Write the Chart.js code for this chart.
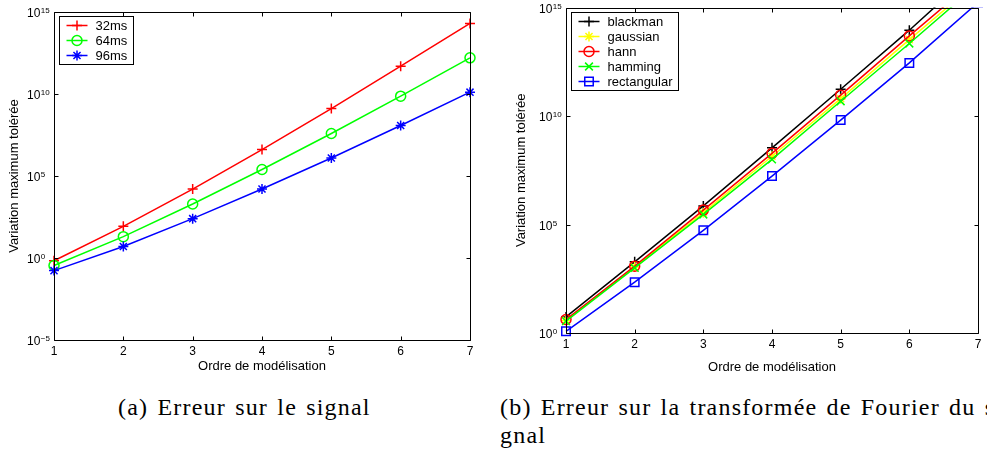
<!DOCTYPE html>
<html>
<head>
<meta charset="utf-8">
<title>Variation maximum tolérée</title>
<script src="https://cdn.jsdelivr.net/npm/chart.js@4.4.1/dist/chart.umd.min.js"></script>
<style>
    html, body { margin: 0; padding: 0; background: #fff; width: 987px; height: 453px; overflow: hidden; }
    .panel { position: absolute; top: 0; height: 380px; }
    #panel-a { left: 0; width: 490px; }
    #panel-b { left: 500px; width: 487px; }
    .caption { position: absolute; font-family: "Liberation Serif", serif; font-size: 24px; line-height: 28px; letter-spacing: 1.2px; word-spacing: 2px; color: #000; white-space: nowrap; }
</style>
</head>
<body>
<div class="panel" id="panel-a"><canvas id="chartA"></canvas></div>
<div class="panel" id="panel-b"><canvas id="chartB"></canvas></div>
<div class="caption" style="left:118px; top:393px;">(a) Erreur sur le signal</div>
<div class="caption" style="left:500px; top:393px;">(b) Erreur sur la transformée de Fourier du si<br>gnal</div>
<script>
// x axis: model order
const orders = [1, 2, 3, 4, 5, 6, 7];
const xTicks = [1, 2, 3, 4, 5, 6, 7];

// (a) error on the signal
const labelsA = ['32ms', '64ms', '96ms'];
const values32ms = [6.8e-1, 8.5e1, 1.6e4, 4.1e6, 1.3e9, 5.0e11, 2.0e14];
const values64ms = [3.5e-1, 2.0e1, 1.95e3, 2.5e5, 3.9e7, 7.4e9, 1.6e12];
const values96ms = [1.7e-1, 5.0e0, 2.5e2, 1.6e4, 1.26e6, 1.2e8, 1.3e10];
const yTicksA = [1e-5, 1e0, 1e5, 1e10, 1e15];
const yExpA = ['\u22125', '0', '5', '10', '15'];

// (b) error on the Fourier transform of the signal
const labelsB = ['blackman', 'gaussian', 'hann', 'hamming', 'rectangular'];
const valuesBlackman = [5.5e0, 1.9e3, 7.2e5, 3.4e8, 1.7e11, 9.0e13, 6.6e16];
const valuesGaussian = [3.8e0, 1.1e3, 3.5e5, 1.4e8, 6.3e10, 3.3e13, 1.6e16];
const valuesHann = [4.2e0, 1.2e3, 4.6e5, 1.9e8, 9.1e10, 4.9e13, 2.4e16];
const valuesHamming = [3.5e0, 1.0e3, 2.9e5, 1.0e8, 4.8e10, 2.2e13, 1.2e16];
const valuesRect = [1.2e0, 2.2e2, 5.4e4, 1.7e7, 6.5e9, 2.8e12, 1.7e15];
const yTicksB = [1e0, 1e5, 1e10, 1e15];
const yExpB = ['0', '5', '10', '15'];

const FONT = '"Liberation Sans", Arial, sans-serif';

function makeSeries(label, values, color, pointStyle, radius, order) {
    return {
        label: label,
        data: orders.map((o, i) => ({ x: o, y: values[i] })),
        borderColor: color,
        backgroundColor: color,
        borderWidth: 1.5,
        tension: 0,
        pointStyle: pointStyle,
        pointRadius: radius,
        pointHoverRadius: radius,
        pointBorderWidth: 1.5,
        pointBackgroundColor: 'rgba(0,0,0,0)',
        pointBorderColor: color,
        clip: { left: 10, right: 10, top: 0, bottom: 10 },
        order: order
    };
}

// box, inward ticks, superscript y labels and a matlab-like legend
const matlabAxes = {
    id: 'matlabAxes',
    afterDraw(chart, args, opts) {
        const { ctx, chartArea: a } = chart;
        const x = chart.scales.x, y = chart.scales.y;
        const L = Math.round(a.left) + 0.5, R = Math.round(a.right) + 0.5;
        const T = Math.round(a.top) + 0.5, B = Math.round(a.bottom) + 0.5;
        const len = 4;
        ctx.save();
        ctx.strokeStyle = '#000';
        ctx.lineWidth = 1;
        ctx.beginPath();
        ctx.rect(L, T, R - L, B - T);
        x.ticks.forEach(t => {
            const px = Math.round(x.getPixelForValue(t.value)) + 0.5;
            ctx.moveTo(px, B); ctx.lineTo(px, B - len);
            ctx.moveTo(px, T); ctx.lineTo(px, T + len);
        });
        y.ticks.forEach(t => {
            const py = Math.round(y.getPixelForValue(t.value)) + 0.5;
            ctx.moveTo(L, py); ctx.lineTo(L + len, py);
            ctx.moveTo(R, py); ctx.lineTo(R - len, py);
        });
        ctx.stroke();

        // y tick labels: 10 with exponent
        ctx.fillStyle = '#000';
        ctx.textBaseline = 'alphabetic';
        ctx.textAlign = 'left';
        opts.ticks.forEach((v, i) => {
            const py = y.getPixelForValue(v);
            ctx.font = '12px ' + FONT;
            const bx = a.left - 27;
            ctx.fillText('10', bx, py + 5);
            const w = ctx.measureText('10').width;
            ctx.font = '8px ' + FONT;
            ctx.fillText(opts.exps[i], bx + w + 0.5, py + 1);
        });

        // legend
        const ds = chart.data.datasets;
        ctx.font = '13px ' + FONT;
        let tw = 0;
        ds.forEach(d => { tw = Math.max(tw, ctx.measureText(d.label).width); });
        const bx = Math.round(a.left + 5) + 0.5, by = Math.round(a.top + 4) + 0.5;
        const bw = Math.round(36 + tw + 6), bh = ds.length * 15 + 3;
        ctx.fillStyle = '#fff';
        ctx.fillRect(bx, by, bw, bh);
        ctx.strokeStyle = '#000';
        ctx.strokeRect(bx, by, bw, bh);
        ds.forEach((d, i) => {
            const ry = by + 9 + i * 15;
            ctx.strokeStyle = d.borderColor;
            ctx.lineWidth = 1.5;
            ctx.beginPath();
            ctx.moveTo(bx + 7, ry); ctx.lineTo(bx + 28, ry);
            ctx.stroke();
            ctx.fillStyle = 'rgba(0,0,0,0)';
            Chart.helpers.drawPoint(ctx, { pointStyle: d.pointStyle, radius: d.pointRadius, rotation: 0, borderWidth: 1.5 }, bx + 17.5, ry);
            ctx.fillStyle = '#000';
            ctx.textBaseline = 'middle';
            ctx.fillText(d.label, bx + 36, ry + 0.5);
        });
        ctx.restore();
    }
};

function makeOptions(cfg) {
    return {
        responsive: true,
        maintainAspectRatio: false,
        animation: false,
        events: [],
        layout: { padding: cfg.padding },
        plugins: {
            legend: { display: false },
            tooltip: { enabled: false },
            matlabAxes: { ticks: cfg.yTicks, exps: cfg.yExps }
        },
        scales: {
            x: {
                type: 'linear',
                min: 1,
                max: 7,
                grid: { display: false, drawTicks: false },
                border: { display: false },
                afterBuildTicks: s => { s.ticks = xTicks.map(v => ({ value: v })); },
                afterFit: s => { s.height = cfg.xHeight; },
                ticks: { color: '#000', font: { family: FONT, size: 12 }, padding: 4, maxRotation: 0, callback: v => String(v) },
                title: { display: true, text: 'Ordre de modélisation', color: '#000', font: { family: FONT, size: 13 }, padding: { top: 0, bottom: cfg.xTitlePad } }
            },
            y: {
                type: 'logarithmic',
                min: cfg.yTicks[0],
                max: cfg.yTicks[cfg.yTicks.length - 1],
                grid: { display: false, drawTicks: false },
                border: { display: false },
                afterBuildTicks: s => { s.ticks = cfg.yTicks.map(v => ({ value: v })); },
                afterFit: s => { s.width = cfg.yWidth; },
                ticks: { display: false },
                title: { display: true, text: 'Variation maximum tolérée', color: '#000', font: { family: FONT, size: 13 }, padding: { top: cfg.yTitlePad, bottom: 0 } }
            }
        }
    };
}

new Chart(document.getElementById('chartA'), {
    type: 'line',
    data: {
        datasets: [
            makeSeries(labelsA[0], values32ms, '#ff0000', 'cross', 5, 3),
            makeSeries(labelsA[1], values64ms, '#00ff00', 'circle', 5, 2),
            makeSeries(labelsA[2], values96ms, '#0000ff', 'star', 5, 1)
        ]
    },
    options: makeOptions({ padding: { left: 0, right: 20, top: 12, bottom: 0 }, xHeight: 40, yWidth: 54, xTitlePad: 5.5, yTitlePad: 6.5, yTicks: yTicksA, yExps: yExpA }),
    plugins: [matlabAxes]
});

new Chart(document.getElementById('chartB'), {
    type: 'line',
    data: {
        datasets: [
            makeSeries(labelsB[0], valuesBlackman, '#000000', 'cross', 5, 5),
            makeSeries(labelsB[1], valuesGaussian, '#ffff00', 'star', 5, 4),
            makeSeries(labelsB[2], valuesHann, '#ff0000', 'circle', 5, 3),
            makeSeries(labelsB[3], valuesHamming, '#00ff00', 'crossRot', 5.5, 2),
            makeSeries(labelsB[4], valuesRect, '#0000ff', 'rect', 6, 1)
        ]
    },
    options: makeOptions({ padding: { left: 0, right: 9, top: 7, bottom: 0 }, xHeight: 47, yWidth: 66, xTitlePad: 4.5, yTitlePad: 14, yTicks: yTicksB, yExps: yExpB }),
    plugins: [matlabAxes]
});
</script>
</body>
</html>
